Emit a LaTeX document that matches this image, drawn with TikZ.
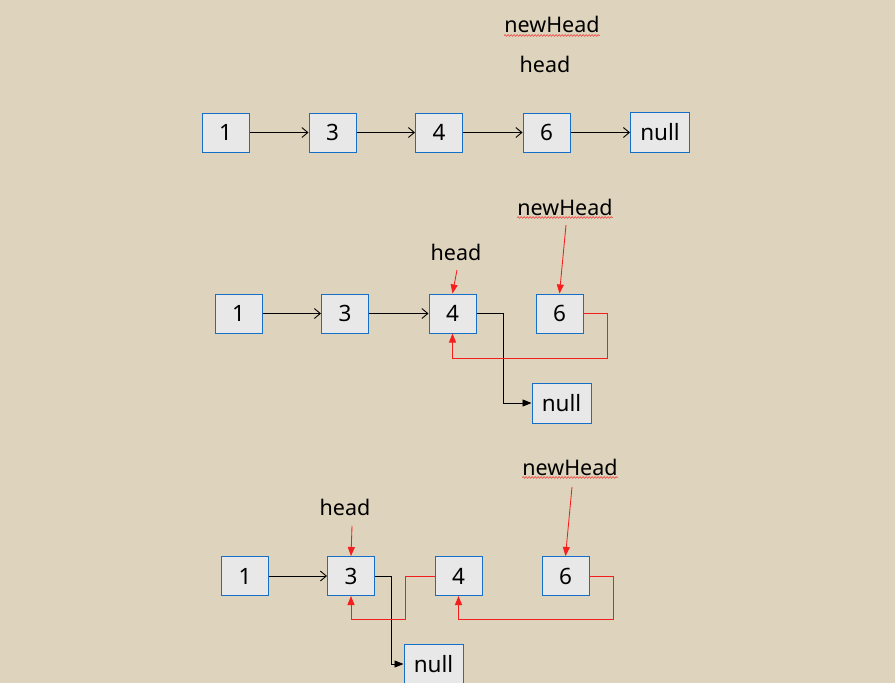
\documentclass[tikz,border=0pt]{standalone}
\usepackage{fontspec}
\setmainfont{Noto Sans}
\usetikzlibrary{arrows.meta,decorations.pathmorphing,calc}
\definecolor{bgc}{RGB}{222,211,188}
\definecolor{boxblue}{RGB}{21,110,200}
\definecolor{boxgray}{RGB}{232,232,232}
\definecolor{redc}{RGB}{245,30,30}
\tikzset{
  box/.style={draw=boxblue,fill=boxgray,line width=1pt,inner sep=0pt,
    minimum width=47pt,minimum height=39pt,font=\fontsize{22.5}{26}\selectfont},
  nullbox/.style={box,minimum width=59pt,minimum height=40pt},
  lbl/.style={inner sep=0pt,font=\fontsize{21.5}{25}\selectfont},
  openarr/.style={draw=black,line width=0.9pt,-{Straight Barb[length=6pt,width=10pt]}},
  blk/.style={draw=black,line width=0.9pt,-{Triangle[length=9pt,width=7pt]}},
  redl/.style={draw=redc,line width=0.85pt,-{Triangle[length=9pt,width=7pt]}},
  wavy/.style={draw=redc,line width=0.5pt,decorate,decoration={snake,amplitude=0.8pt,segment length=3pt}}
}
\begin{document}
\begin{tikzpicture}[x=1pt,y=-1pt]
\fill[bgc] (0,0) rectangle (895,683);
\useasboundingbox (0,0) rectangle (895,683);
% Row 1
\node[box] (a1) at (225.5,132.5) {1};
\node[box] (a3) at (332.5,132.5) {3};
\node[box] (a4) at (439,132.5) {4};
\node[box] (a6) at (546.5,132.5) {6};
\node[nullbox] (an) at (660,132.5) {null};
\node[lbl] (nh1) at (552,24) {newHead};
\node[lbl] (h1) at (545,64) {head};
\draw[wavy] ($(nh1.south west)+(0,3)$) -- ($(nh1.south east)+(0,3)$);
\draw[openarr] (a1) -- (a3);
\draw[openarr] (a3) -- (a4);
\draw[openarr] (a4) -- (a6);
\draw[openarr] (a6) -- (an);
% Row 2
\node[box] (b1) at (238.5,313.5) {1};
\node[box] (b3) at (345,313.5) {3};
\node[box] (b4) at (452.5,313.5) {4};
\node[box] (b6) at (559.5,313.5) {6};
\node[nullbox] (bn) at (561.5,403) {null};
\node[lbl] (h2) at (456,252) {head};
\node[lbl] (nh2) at (565,207) {newHead};
\draw[wavy] ($(nh2.south west)+(0,2)$) -- ($(nh2.south east)+(0,2)$);
\coordinate (h2s) at (457,270);
\coordinate (nh2s) at (566,225);
\draw[openarr] (b1) -- (b3);
\draw[openarr] (b3) -- (b4);
\draw[redl] (h2s) -- (b4.north);
\draw[redl] (nh2s) -- (b6.north);
\draw[blk] (b4.east) -- ++(27,0) |- (bn.west);
\coordinate (r2) at (607,358);
\draw[redl] (b6.east) -| (r2) -| (b4.south);
% Row 3
\node[box] (c1) at (245,576) {1};
\node[box] (c3) at (351,576) {3};
\node[box] (c4) at (458.5,576) {4};
\node[box] (c6) at (565.5,576) {6};
\node[nullbox] (cn) at (433.5,664) {null};
\node[lbl] (h3) at (345,507) {head};
\node[lbl] (nh3) at (570,467) {newHead};
\draw[wavy] ($(nh3.south west)+(0,2)$) -- ($(nh3.south east)+(0,2)$);
\coordinate (h3s) at (352,526);
\coordinate (nh3s) at (572,487);
\draw[openarr] (c1) -- (c3);
\draw[redl] (h3s) -- (c3.north);
\draw[redl] (nh3s) -- (c6.north);
\draw[blk] (c3.east) -- ++(16,0) |- (cn.west);
\coordinate (r3a) at (405,619);
\coordinate (r3b) at (613,619);
\draw[redl] (c4.west) -| (r3a) -| (c3.south);
\draw[redl] (c6.east) -| (r3b) -| (c4.south);
\end{tikzpicture}
\end{document}
